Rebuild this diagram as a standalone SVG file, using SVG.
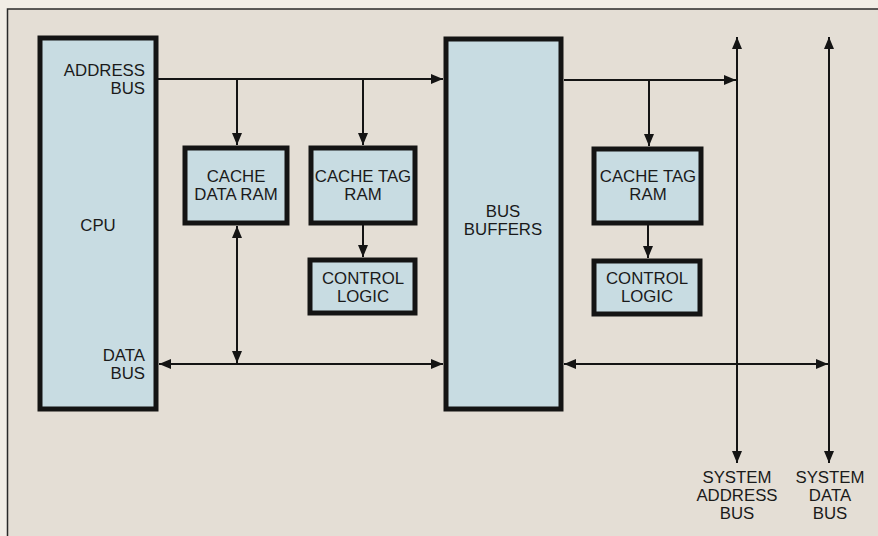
<svg xmlns="http://www.w3.org/2000/svg" width="878" height="536" viewBox="0 0 878 536">
<style>
.box{fill:#c8dce2;stroke:#141414;stroke-width:5}
.t{font-family:"Liberation Sans",Arial,sans-serif;font-size:16.8px;fill:#1a1a1a}
.c{text-anchor:middle}
.r{text-anchor:end}
.w{fill:none;stroke:#141414;stroke-width:2}
</style>
<defs>
<marker id="ah" viewBox="0 0 12 10" refX="12" refY="5" markerWidth="12" markerHeight="10" markerUnits="userSpaceOnUse" orient="auto-start-reverse">
<path d="M0,0 L12,5 L0,10 Z" fill="#141414"/>
</marker>
</defs>
<rect x="0" y="0" width="878" height="536" fill="#f1ede6"/>
<rect x="7.5" y="9" width="880" height="540" fill="#e4ded5" stroke="#2a2a2a" stroke-width="1.5"/>
<g id="connectors">
<line class="w" x1="158" y1="79" x2="443" y2="79" marker-end="url(#ah)"/>
<line class="w" x1="237" y1="79" x2="237" y2="145" marker-end="url(#ah)"/>
<line class="w" x1="363" y1="79" x2="363" y2="145" marker-end="url(#ah)"/>
<line class="w" x1="363" y1="225" x2="363" y2="257" marker-end="url(#ah)"/>
<line class="w" x1="237" y1="226" x2="237" y2="363" marker-start="url(#ah)" marker-end="url(#ah)"/>
<line class="w" x1="159" y1="364" x2="443" y2="364" marker-start="url(#ah)" marker-end="url(#ah)"/>
<line class="w" x1="564" y1="80" x2="736" y2="80" marker-end="url(#ah)"/>
<line class="w" x1="649" y1="80" x2="649" y2="146" marker-end="url(#ah)"/>
<line class="w" x1="648" y1="225" x2="648" y2="258" marker-end="url(#ah)"/>
<line class="w" x1="564" y1="364" x2="828" y2="364" marker-start="url(#ah)" marker-end="url(#ah)"/>
<line class="w" x1="737" y1="37" x2="737" y2="463" marker-start="url(#ah)" marker-end="url(#ah)"/>
<line class="w" x1="829" y1="37" x2="829" y2="463" marker-start="url(#ah)" marker-end="url(#ah)"/>
</g>
<g id="cpu">
<rect class="box" x="40" y="38" width="116" height="371"/>
<text class="t r" x="145" y="76">ADDRESS</text>
<text class="t r" x="145" y="94">BUS</text>
<text class="t c" x="98" y="231">CPU</text>
<text class="t r" x="145" y="361">DATA</text>
<text class="t r" x="145" y="379">BUS</text>
</g>
<g id="cache-data-ram">
<rect class="box" x="185" y="148" width="102" height="75"/>
<text class="t c" x="236" y="182">CACHE</text>
<text class="t c" x="236" y="200">DATA RAM</text>
</g>
<g id="cache-tag-ram-1">
<rect class="box" x="311" y="148" width="104" height="75"/>
<text class="t c" x="363" y="182">CACHE TAG</text>
<text class="t c" x="363" y="200">RAM</text>
</g>
<g id="control-logic-1">
<rect class="box" x="310" y="260" width="105" height="53"/>
<text class="t c" x="363" y="284">CONTROL</text>
<text class="t c" x="363" y="302">LOGIC</text>
</g>
<g id="bus-buffers">
<rect class="box" x="446" y="39" width="115" height="370"/>
<text class="t c" x="503" y="217">BUS</text>
<text class="t c" x="503" y="235">BUFFERS</text>
</g>
<g id="cache-tag-ram-2">
<rect class="box" x="594" y="149" width="107" height="74"/>
<text class="t c" x="648" y="182">CACHE TAG</text>
<text class="t c" x="648" y="200">RAM</text>
</g>
<g id="control-logic-2">
<rect class="box" x="594" y="261" width="106" height="53"/>
<text class="t c" x="647" y="284">CONTROL</text>
<text class="t c" x="647" y="302">LOGIC</text>
</g>
<g id="system-address-bus">
<text class="t c" x="737" y="483">SYSTEM</text>
<text class="t c" x="737" y="501">ADDRESS</text>
<text class="t c" x="737" y="519">BUS</text>
</g>
<g id="system-data-bus">
<text class="t c" x="830" y="483">SYSTEM</text>
<text class="t c" x="830" y="501">DATA</text>
<text class="t c" x="830" y="519">BUS</text>
</g>
</svg>
